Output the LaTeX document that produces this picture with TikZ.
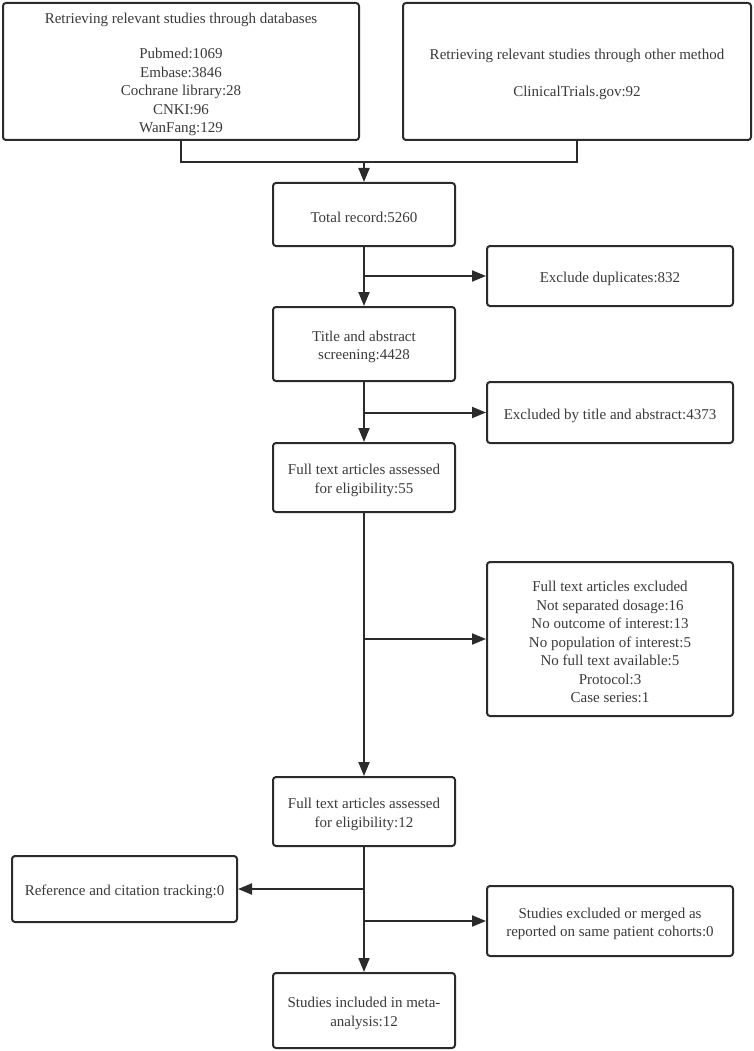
\documentclass[tikz,border=0pt]{standalone}
\usepackage{fontspec}
\setmainfont{Liberation Serif}
\usetikzlibrary{arrows.meta}
\definecolor{ln}{HTML}{2B2B2B}
\definecolor{tx}{HTML}{3A3A3A}
\tikzset{
  box/.style={draw=ln, line width=2pt, rounded corners=3pt, inner sep=0pt},
  boxtext/.style={align=center, text=tx, inner sep=0pt, yshift=-3pt,
    font=\fontsize{15}{18.5}\selectfont},
  arr/.style={draw=ln, line width=2pt, -{Triangle[length=14pt,width=11pt]}},
  ln/.style={draw=ln, line width=2pt}
}
\newcommand{\bx}[6]{% name, x1, y1, x2, y2, text
  \pgfmathsetmacro{\cx}{(#2+#4)/2}\pgfmathsetmacro{\cy}{(#3+#5)/2}
  \pgfmathsetmacro{\ww}{#4-#2}\pgfmathsetmacro{\hh}{#5-#3}
  \node[box, minimum width=\ww pt, minimum height=\hh pt,
        label={[boxtext]center:{#6}}] (#1) at (\cx,\cy) {};}
\begin{document}
\begin{tikzpicture}[x=1pt,y=-1pt]
\useasboundingbox (0,0) rectangle (754,1051);
\bx{db}{3}{3}{359}{140}{Retrieving relevant studies through databases\\[17pt]Pubmed:1069\\Embase:3846\\Cochrane library:28\\CNKI:96\\WanFang:129}
\bx{other}{403}{3}{751}{140}{Retrieving relevant studies through other method\\[18pt]ClinicalTrials.gov:92}
\bx{total}{273}{183}{455}{246}{Total record:5260}
\bx{dup}{487}{246}{733}{306}{Exclude duplicates:832}
\bx{title}{273}{307}{455}{381}{Title and abstract\\screening:4428}
\bx{extitle}{487}{382}{733}{443}{Excluded by title and abstract:4373}
\bx{full}{273}{443}{455}{512}{Full text articles assessed\\for eligibility:55}
\bx{exfull}{487}{562}{733}{716}{Full text articles excluded\\Not separated dosage:16\\No outcome of interest:13\\No population of interest:5\\No full text available:5\\Protocol:3\\Case series:1}
\bx{fulltw}{273}{777}{455}{846}{Full text articles assessed\\for eligibility:12}
\bx{ref}{12}{856}{237}{922}{Reference and citation tracking:0}
\bx{merged}{487}{886}{733}{956}{Studies excluded or merged as\\reported on same patient cohorts:0}
\bx{final}{273}{973}{455}{1048}{Studies included in meta-\\analysis:12}
\coordinate (j) at (total.north |- 0,162);
\draw[ln] (db.south) |- (other.south |- j) -- (other.south);
\draw[arr] (j) -- (total.north);
\draw[arr] (total.south) -- (title.north);
\draw[arr] (total.south |- dup.west) -- (dup.west);
\draw[arr] (title.south) -- (full.north);
\draw[arr] (title.south |- extitle.west) -- (extitle.west);
\draw[arr] (full.south) -- (fulltw.north);
\draw[arr] (full.south |- exfull.west) -- (exfull.west);
\draw[arr] (fulltw.south) -- (final.north);
\draw[arr] (fulltw.south |- ref.east) -- (ref.east);
\draw[arr] (fulltw.south |- merged.west) -- (merged.west);
\end{tikzpicture}
\end{document}
